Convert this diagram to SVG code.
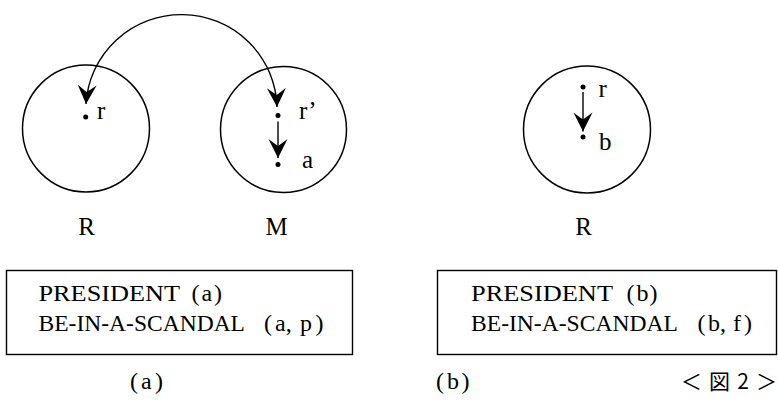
<svg xmlns="http://www.w3.org/2000/svg" width="778" height="403" viewBox="0 0 778 403">
<defs>
<marker id="ah" markerUnits="userSpaceOnUse" markerWidth="26" markerHeight="26" refX="0" refY="0" viewBox="-22 -13 24 26" orient="auto-start-reverse">
<path d="M0,0 L-19,-9.5 Q-14,-3 -12,0 Q-14,3 -19,9.5 Z" fill="#000"/>
</marker>
<style>
.c{fill:none;stroke:#000;stroke-width:1.5}
.b{fill:#fff;stroke:#000;stroke-width:1.4}
.l{fill:none;stroke:#000;stroke-width:1.4}
.t{font-family:"Liberation Serif","Noto Sans CJK JP",serif;font-size:25px;fill:#000}
.s{font-family:"Liberation Serif","Noto Sans CJK JP",serif;font-size:24px;fill:#000}
.j{font-family:"Noto Sans CJK JP","Liberation Serif",serif;font-size:21px;fill:#000}
.d{fill:#000}
</style>
</defs>
<g id="circle-R-a">
<circle class="c" cx="86" cy="128.5" r="63.5"/>
<circle class="d" cx="85.7" cy="117" r="2.5"/>
<text class="t" x="97" y="118.5">r</text>
</g>
<g id="circle-M">
<circle class="c" cx="283.5" cy="129.5" r="63"/>
<circle class="d" cx="278" cy="115.5" r="2.5"/>
<text class="t" x="299" y="119">r’</text>
<circle class="d" cx="278" cy="164.5" r="2.5"/>
<text class="t" x="302" y="167.5">a</text>
</g>
<g id="circle-R-b">
<circle class="c" cx="587" cy="129.5" r="63.5"/>
<circle class="d" cx="583" cy="87" r="2.5"/>
<text class="t" x="598.5" y="96.5">r</text>
<circle class="d" cx="583" cy="137" r="2.5"/>
<text class="t" x="599" y="149.5">b</text>
</g>
<g id="connectors">
<path class="l" d="M86,104 A95.6,95 0 0 1 277,107" marker-start="url(#ah)" marker-end="url(#ah)"/>
<path class="l" d="M278,121.5 L278,158" marker-end="url(#ah)"/>
<path class="l" d="M583,92 L583,131.5" marker-end="url(#ah)"/>
</g>
<g id="labels">
<text class="t" x="86.5" y="235" text-anchor="middle">R</text>
<text class="t" x="276.5" y="235" text-anchor="middle">M</text>
<text class="t" x="583.5" y="235" text-anchor="middle">R</text>
</g>
<g id="box-a">
<rect class="b" x="6.5" y="270.5" width="346" height="84"/>
<text class="s" y="301"><tspan x="38.5" textLength="141.5" lengthAdjust="spacingAndGlyphs">PRESIDENT</tspan><tspan x="191.5">(</tspan><tspan x="201.5">a</tspan><tspan x="214">)</tspan></text>
<text class="s" y="331"><tspan x="38.5" textLength="206.5" lengthAdjust="spacingAndGlyphs">BE-IN-A-SCANDAL</tspan><tspan x="264">(</tspan><tspan x="275">a,</tspan><tspan x="300">p</tspan><tspan x="315.5">)</tspan></text>
</g>
<g id="box-b">
<rect class="b" x="437.5" y="270.5" width="339" height="84"/>
<text class="s" y="301"><tspan x="471" textLength="142" lengthAdjust="spacingAndGlyphs">PRESIDENT</tspan><tspan x="626.5">(</tspan><tspan x="636.5">b</tspan><tspan x="649.5">)</tspan></text>
<text class="s" y="331"><tspan x="471" textLength="207" lengthAdjust="spacingAndGlyphs">BE-IN-A-SCANDAL</tspan><tspan x="697.5">(</tspan><tspan x="708">b,</tspan><tspan x="733">f</tspan><tspan x="744">)</tspan></text>
</g>
<g id="captions">
<text class="s" y="389"><tspan x="130">(</tspan><tspan x="141">a</tspan><tspan x="155">)</tspan></text>
<text class="s" y="389"><tspan x="436">(</tspan><tspan x="447">b</tspan><tspan x="461.5">)</tspan></text>
<text class="j" x="681" y="389" textLength="96" lengthAdjust="spacing">＜図2＞</text>
</g>
</svg>
